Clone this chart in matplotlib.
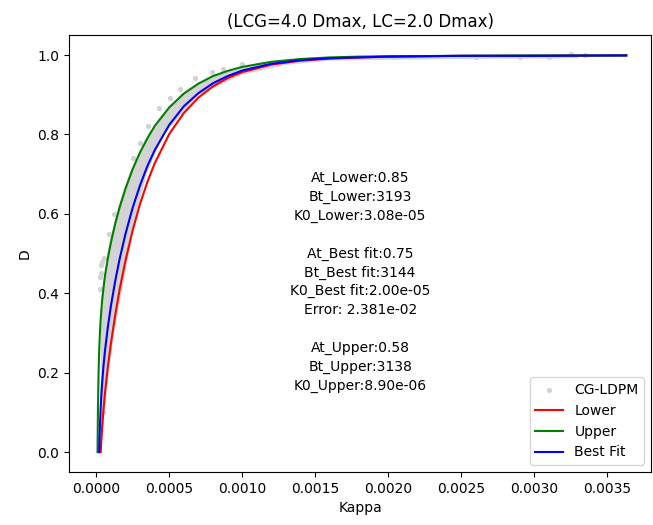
import matplotlib
matplotlib.use("Agg")
import matplotlib.pyplot as plt

# fitted damage curves
k_lower = [3.08e-5, 3.4e-5, 4.0e-5, 5.0e-5, 6.0e-5, 8.0e-5, 1.0e-4, 1.3e-4, 1.6e-4, 2.0e-4,
           2.5e-4, 3.0e-4, 3.5e-4, 4.0e-4, 5.0e-4, 6.0e-4, 7.0e-4, 8.0e-4, 9.0e-4, 1.0e-3,
           1.2e-3, 1.4e-3, 1.6e-3, 1.8e-3, 2.0e-3, 2.5e-3, 3.0e-3, 3.63e-3]
d_lower = [0.0, 0.023, 0.059, 0.108, 0.149, 0.216, 0.272, 0.345, 0.409, 0.482,
           0.559, 0.625, 0.680, 0.727, 0.801, 0.854, 0.893, 0.921, 0.942, 0.957,
           0.976, 0.986, 0.991, 0.994, 0.996, 0.998, 0.998, 0.999]

k_upper = [8.9e-6, 1.2e-5, 1.6e-5, 2.0e-5, 2.5e-5, 3.0e-5, 4.0e-5, 5.0e-5, 6.0e-5, 8.0e-5,
           1.0e-4, 1.3e-4, 1.6e-4, 2.0e-4, 2.5e-4, 3.0e-4, 3.5e-4, 4.0e-4, 5.0e-4, 6.0e-4,
           7.0e-4, 8.0e-4, 9.0e-4, 1.0e-3, 1.2e-3, 1.4e-3, 1.6e-3, 1.8e-3, 2.0e-3, 2.5e-3,
           3.0e-3, 3.63e-3]
d_upper = [0.0, 0.114, 0.199, 0.253, 0.299, 0.333, 0.381, 0.415, 0.444, 0.489,
           0.527, 0.575, 0.616, 0.663, 0.713, 0.755, 0.790, 0.821, 0.868, 0.903,
           0.928, 0.947, 0.960, 0.970, 0.983, 0.990, 0.994, 0.996, 0.997, 0.998,
           0.999, 0.999]

k_best = [2.0e-5, 2.3e-5, 2.6e-5, 3.0e-5, 3.5e-5, 4.0e-5, 5.0e-5, 6.0e-5, 8.0e-5, 1.0e-4,
          1.3e-4, 1.6e-4, 2.0e-4, 2.5e-4, 3.0e-4, 3.5e-4, 4.0e-4, 5.0e-4, 6.0e-4, 7.0e-4,
          8.0e-4, 9.0e-4, 1.0e-3, 1.2e-3, 1.4e-3, 1.6e-3, 1.8e-3, 2.0e-3, 2.5e-3, 3.0e-3,
          3.63e-3]
d_best = [0.0, 0.040, 0.072, 0.107, 0.142, 0.171, 0.218, 0.255, 0.316, 0.367,
          0.431, 0.486, 0.549, 0.616, 0.672, 0.720, 0.760, 0.824, 0.871, 0.904,
          0.929, 0.947, 0.961, 0.978, 0.987, 0.992, 0.994, 0.996, 0.998, 0.998,
          0.999]

# CG-LDPM cloud: upper-left and lower-right edges of the dense band
cloud_top_k = [2.0e-5, 2.4e-5, 3.2e-5, 3.2e-5, 4.2e-5, 7.5e-5, 1.35e-4, 2.25e-4, 3.55e-4,
               5.8e-4, 8.1e-4, 1.15e-3, 1.4e-3, 2.0e-3, 3.3e-3]
cloud_top_d = [0.0, 0.10, 0.20, 0.30, 0.40, 0.50, 0.60, 0.70, 0.80,
               0.90, 0.95, 0.98, 0.99, 0.996, 0.997]
cloud_bot_k = [3.3e-5, 5.6e-5, 8.6e-5, 1.23e-4, 1.72e-4, 2.25e-4, 2.75e-4, 3.45e-4, 4.6e-4,
               7.0e-4, 1.0e-3, 1.3e-3, 1.6e-3, 2.5e-3, 3.3e-3]
cloud_bot_d = [0.0, 0.10, 0.20, 0.30, 0.40, 0.50, 0.60, 0.70, 0.80,
               0.90, 0.95, 0.975, 0.986, 0.990, 0.992]

# scattered CG-LDPM points outside / around the band
pts_k = [2.6e-5, 2.9e-5, 3.1e-5, 3.4e-5, 3.8e-5, 5.5e-5, 9.0e-5, 1.2e-4, 2.55e-4, 3.0e-4,
         3.58e-4, 4.27e-4, 5.07e-4, 5.75e-4, 6.78e-4, 7.92e-4, 8.7e-4, 1.0e-3, 4.5e-5, 1.4e-4,
         2.6e-3, 2.9e-3, 3.1e-3, 3.25e-3, 3.35e-3]
pts_d = [0.41, 0.44, 0.47, 0.45, 0.48, 0.49, 0.55, 0.60, 0.740, 0.778,
         0.822, 0.866, 0.893, 0.915, 0.941, 0.958, 0.966, 0.977, 0.10, 0.38,
         0.994, 0.994, 0.995, 1.002, 1.001]

params = {
    "Lower": (0.85, 3193, 3.08e-05),
    "Best fit": (0.75, 3144, 2.00e-05),
    "Upper": (0.58, 3138, 8.90e-06),
}
fit_error = 2.381e-02

fig, ax = plt.subplots(figsize=(6.53, 5.25), dpi=100)
fig.subplots_adjust(left=0.106, right=0.997, top=0.933, bottom=0.101)

band_k = cloud_top_k + cloud_bot_k[::-1]
band_d = cloud_top_d + cloud_bot_d[::-1]
ax.fill(band_k, band_d, color="lightgray", lw=0)
ax.scatter(pts_k, pts_d, s=8, color="lightgray", label="CG-LDPM")

ax.plot(k_lower, d_lower, color="red", label="Lower")
ax.plot(k_upper, d_upper, color="green", label="Upper")
ax.plot(k_best, d_best, color="blue", label="Best Fit")

lines = []
for name in ["Lower", "Best fit", "Upper"]:
    a, b, k0 = params[name]
    lines.append(f"At_{name}:{a:.2f}")
    lines.append(f"Bt_{name}:{b}")
    lines.append(f"K0_{name}:{k0:.2e}")
    if name == "Best fit":
        lines.append(f"Error: {fit_error:.3e}")
    lines.append("")
txt = "\n".join(lines[:-1])
ax.text(0.5, 0.435, txt, transform=ax.transAxes, ha="center", va="center",
        multialignment="center", fontsize=10, linespacing=1.43)

ax.set_xlim(-0.000185, 0.0038)
ax.set_ylim(-0.05, 1.05)
ax.set_xlabel("Kappa")
ax.set_ylabel("D")
ax.set_title("(LCG=4.0 Dmax, LC=2.0 Dmax)")
ax.legend(loc="lower right")

fig.savefig("out.png", dpi=100)
